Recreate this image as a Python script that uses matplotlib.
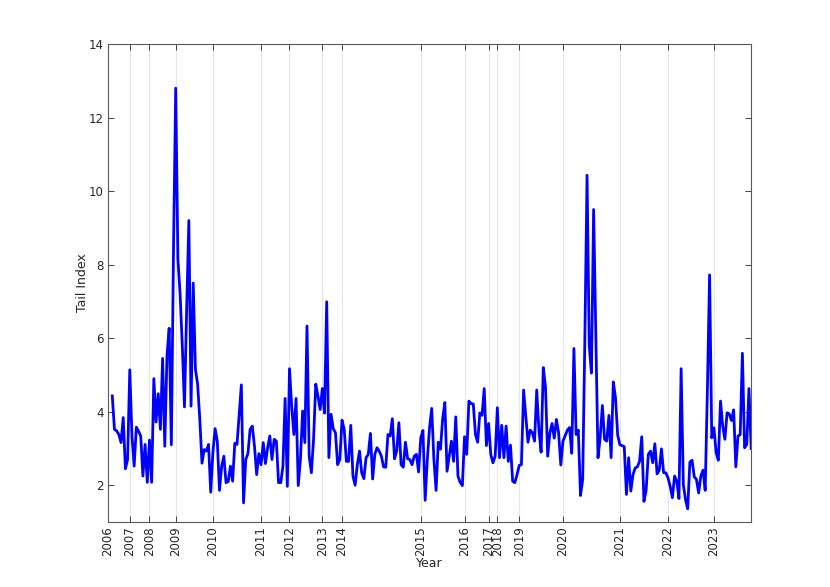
import numpy as np
import matplotlib
matplotlib.use('Agg')
import matplotlib.pyplot as plt

tail_index = [
    4.43, 3.52, 3.48, 3.38, 3.16, 3.84, 2.45, 2.70, 5.14, 3.34,
    2.52, 3.58, 3.47, 3.34, 2.25, 3.11, 2.08, 3.23, 2.08, 4.90,
    3.72, 4.49, 3.52, 5.45, 3.06, 5.52, 6.27, 3.10, 8.50, 12.80,
    8.15, 7.20, 5.80, 4.13, 6.80, 9.20, 4.15, 7.50, 5.16, 4.75,
    3.80, 2.60, 2.97, 2.93, 3.11, 1.81, 2.90, 3.54, 3.20, 1.86,
    2.52, 2.79, 2.07, 2.10, 2.52, 2.11, 3.14, 3.11, 3.90, 4.73,
    1.52, 2.70, 2.86, 3.52, 3.61, 3.06, 2.29, 2.86, 2.56, 3.16,
    2.59, 3.02, 3.34, 2.70, 3.25, 3.20, 2.07, 2.07, 2.52, 4.36,
    1.97, 5.17, 4.15, 3.38, 4.36, 1.99, 2.70, 4.02, 3.16, 6.33,
    2.79, 2.34, 3.25, 4.75, 4.43, 4.06, 4.63, 3.96, 6.99, 2.75,
    3.93, 3.54, 3.43, 2.56, 2.70, 3.77, 3.52, 2.65, 2.65, 3.63,
    2.25, 2.00, 2.56, 2.93, 2.34, 2.18, 2.75, 2.84, 3.41, 2.17,
    2.84, 3.02, 2.93, 2.79, 2.50, 2.49, 3.38, 3.34, 3.81, 2.72,
    2.93, 3.70, 2.56, 2.49, 3.17, 2.72, 2.70, 2.56, 2.79, 2.84,
    2.36, 3.29, 3.49, 1.59, 2.70, 3.56, 4.09, 2.70, 1.86, 3.17,
    2.98, 3.81, 4.25, 2.38, 2.79, 3.20, 2.65, 3.86, 2.25, 2.08,
    1.99, 3.32, 2.84, 4.29, 4.22, 4.21, 3.38, 3.17, 3.97, 3.90,
    4.63, 3.08, 3.68, 2.84, 2.61, 2.79, 4.11, 2.75, 3.63, 2.75,
    3.61, 2.65, 3.09, 2.11, 2.07, 2.29, 2.54, 2.56, 4.59, 3.88,
    3.17, 3.50, 3.43, 3.20, 4.59, 3.50, 2.90, 5.20, 4.68, 2.79,
    3.42, 3.68, 3.28, 3.79, 3.43, 2.55, 3.20, 3.35, 3.50, 3.57,
    2.87, 5.72, 3.38, 3.50, 1.72, 2.15, 6.00, 10.43, 5.80, 5.05,
    9.50, 6.20, 2.75, 3.30, 4.17, 3.25, 3.20, 3.90, 2.75, 4.81,
    4.38, 3.36, 3.10, 3.08, 3.05, 1.75, 2.75, 1.84, 2.29, 2.47,
    2.50, 2.65, 3.32, 1.56, 1.86, 2.84, 2.93, 2.61, 3.13, 2.31,
    2.41, 2.99, 2.34, 2.34, 2.20, 1.97, 1.66, 2.25, 2.11, 1.64,
    5.17, 2.02, 1.61, 1.36, 2.63, 2.68, 2.23, 2.16, 1.79, 2.25,
    2.41, 1.86, 4.60, 7.72, 3.29, 3.56, 2.88, 2.68, 4.29, 3.61,
    3.25, 3.97, 3.94, 3.76, 4.05, 2.50, 3.34, 3.38, 5.59, 3.02,
    3.11, 4.63, 3.00,
]
first_obs = 3

# Observation index where each year starts
year_ticks = [1, 11, 20, 32, 49, 71, 84, 99, 108, 144,
              164, 175, 179, 189, 209, 235, 257, 278]
year_labels = ['2006', '2007', '2008', '2009', '2010', '2011', '2012',
               '2013', '2014', '2015', '2016', '2017', '2018', '2019',
               '2020', '2021', '2022', '2023']

obs = np.arange(first_obs, first_obs + len(tail_index))

fig = plt.figure(figsize=(8.3, 5.87), dpi=100)
ax = fig.add_axes([0.130, 0.1107, 0.775, 0.8143])

ax.plot(obs, tail_index, color=(0, 0, 1), lw=2)

ax.set_xlim(year_ticks[0], obs[-1])
ax.set_ylim(1, 14)
ax.set_yticks(np.arange(2, 15, 2))
ax.set_xticks(year_ticks)
ax.set_xticklabels(year_labels, rotation=90)

ax.grid(axis='x', color='0.9', lw=0.8)
ax.set_axisbelow(True)

ax.tick_params(direction='in', length=4, width=0.6, top=True, right=True,
               labelsize=8.5, colors='0.15', pad=3)
for sp in ax.spines.values():
    sp.set_color('0.35')
    sp.set_linewidth(0.8)

ax.set_xlabel('Year', fontsize=9, color='0.15', labelpad=1)
ax.set_ylabel('Tail Index', fontsize=9, color='0.15', labelpad=0)

fig.savefig('out.png', dpi=100)
